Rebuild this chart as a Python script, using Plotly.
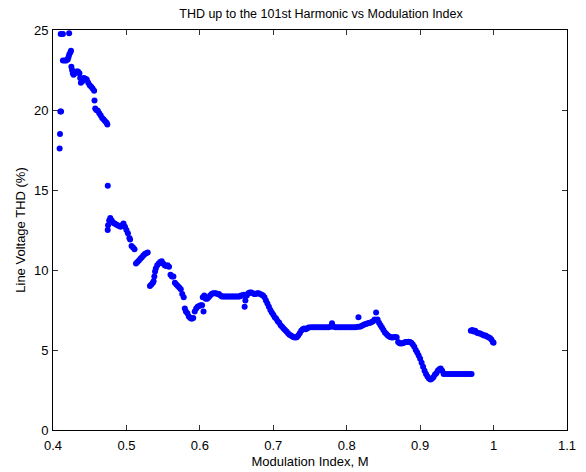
import plotly.graph_objects as go

# Modulation index values (M) and line-voltage THD (%)
m_values = [
    0.409, 0.4095, 0.410, 0.411,
    0.4105, 0.4135, 0.422,
    0.4135, 0.416, 0.418, 0.420, 0.421, 0.422, 0.4235, 0.4245,
    0.425, 0.426, 0.427, 0.428, 0.430, 0.432, 0.434, 0.436, 0.437, 0.438,
    0.440, 0.442, 0.444, 0.446, 0.448, 0.450, 0.452, 0.454, 0.456,
    0.4565, 0.4575, 0.459, 0.461, 0.463, 0.465, 0.467, 0.469, 0.471, 0.473, 0.474,
    0.4746,
    0.4745, 0.4750, 0.4765, 0.478, 0.480, 0.482, 0.484, 0.486, 0.488, 0.490,
    0.492, 0.494, 0.496, 0.498, 0.500, 0.502, 0.504, 0.505, 0.507, 0.509, 0.511,
    0.513, 0.515, 0.517, 0.519, 0.521, 0.523, 0.525, 0.527, 0.529,
    0.532, 0.534, 0.536, 0.537, 0.538, 0.539, 0.540, 0.542, 0.544, 0.546, 0.548,
    0.550, 0.552, 0.554, 0.556, 0.558, 0.560, 0.562, 0.564, 0.566, 0.568, 0.570,
    0.572, 0.574, 0.576, 0.578, 0.5795, 0.581, 0.583, 0.585, 0.587, 0.589, 0.591,
    0.593, 0.595, 0.597, 0.599, 0.601, 0.603, 0.605,
    0.604, 0.606, 0.608, 0.610, 0.612, 0.614, 0.616, 0.618, 0.620, 0.622, 0.624,
    0.626, 0.628, 0.630, 0.632, 0.634, 0.636, 0.638, 0.640, 0.642, 0.644, 0.646,
    0.648, 0.650, 0.652, 0.654, 0.656, 0.658, 0.660, 0.661, 0.662, 0.664, 0.666,
    0.668, 0.670, 0.672, 0.674, 0.676, 0.678, 0.680, 0.682, 0.684, 0.686, 0.688,
    0.690, 0.692, 0.694, 0.696, 0.698, 0.700, 0.702, 0.704, 0.706, 0.708, 0.710,
    0.712, 0.714, 0.716, 0.718, 0.720, 0.722, 0.724, 0.726, 0.728, 0.730, 0.732,
    0.734, 0.736, 0.738, 0.740, 0.742, 0.744, 0.746, 0.748, 0.751, 0.754, 0.757,
    0.760, 0.763, 0.766, 0.769, 0.772, 0.775, 0.778, 0.780, 0.782, 0.785, 0.788,
    0.791, 0.794, 0.797, 0.800, 0.803, 0.806, 0.809, 0.812, 0.815, 0.816, 0.818,
    0.820, 0.822, 0.824, 0.826, 0.828, 0.830, 0.832, 0.834, 0.836, 0.838, 0.840,
    0.842, 0.844, 0.846, 0.848, 0.850, 0.852, 0.854, 0.856, 0.858, 0.860, 0.862,
    0.864, 0.866, 0.868, 0.870, 0.872, 0.874, 0.876, 0.878, 0.880, 0.882, 0.884,
    0.886, 0.888, 0.890, 0.892, 0.894, 0.896, 0.898, 0.900, 0.902, 0.904, 0.906,
    0.908, 0.910, 0.912, 0.914, 0.916, 0.918, 0.920, 0.922, 0.924, 0.926, 0.928,
    0.930, 0.932, 0.935, 0.938, 0.941, 0.944, 0.947, 0.950, 0.953, 0.956, 0.959,
    0.962, 0.965, 0.968, 0.970,
    0.969, 0.971, 0.973, 0.975, 0.977, 0.979, 0.981, 0.983, 0.985, 0.987, 0.989,
    0.991, 0.993, 0.995, 0.997, 0.999, 1.000,
]
thd_values = [
    17.6, 18.5, 19.9, 19.9,
    24.75, 24.75, 24.8,
    23.1, 23.1, 23.1, 23.15, 23.3, 23.45, 23.6, 23.7,
    22.7, 22.5, 22.3, 22.2, 22.3, 22.4, 22.4, 22.3, 22.0, 21.7,
    21.8, 22.0, 21.95, 21.9, 21.7, 21.55, 21.45, 21.35, 21.2,
    20.6, 20.1, 20.0, 19.95, 19.8, 19.65, 19.5, 19.4, 19.3, 19.2, 19.1,
    15.27,
    12.5, 12.8, 13.1, 13.25, 13.1, 12.95, 12.9, 12.85, 12.8, 12.75,
    12.7, 12.8, 12.9, 12.7, 12.5, 12.3, 12.0, 11.9, 11.5, 11.4, 11.3,
    10.4, 10.5, 10.6, 10.7, 10.8, 10.9, 11.0, 11.05, 11.1,
    9.0, 9.1, 9.2, 9.3, 9.6, 9.9, 10.1, 10.3, 10.4, 10.5, 10.55,
    10.4, 10.3, 10.25, 10.3, 10.2, 9.7, 9.6, 9.6, 9.2, 9.1, 9.0,
    8.9, 8.8, 8.5, 8.3, 7.6, 7.4, 7.3, 7.1, 7.0, 6.95, 7.0,
    7.4, 7.6, 7.7, 7.75, 7.8, 7.8, 7.4,
    8.3, 8.4, 8.2, 8.2, 8.3, 8.4, 8.5, 8.55, 8.55, 8.55, 8.5,
    8.5, 8.4, 8.35, 8.35, 8.35, 8.35, 8.35, 8.35, 8.35, 8.35, 8.35,
    8.35, 8.35, 8.35, 8.35, 8.4, 8.4, 8.45, 7.7, 8.1, 8.4, 8.55,
    8.6, 8.6, 8.55, 8.5, 8.5, 8.55, 8.55, 8.5, 8.45, 8.4, 8.3,
    8.1, 7.9, 7.7, 7.5, 7.35, 7.2, 7.05, 6.95, 6.8, 6.7, 6.55,
    6.45, 6.35, 6.25, 6.15, 6.05, 5.95, 5.9, 5.85, 5.8, 5.78, 5.8,
    5.9, 6.05, 6.2, 6.3, 6.35, 6.3, 6.35, 6.4, 6.42, 6.42, 6.42,
    6.42, 6.42, 6.42, 6.42, 6.42, 6.42, 6.45, 6.67, 6.45, 6.42, 6.42,
    6.42, 6.42, 6.42, 6.42, 6.42, 6.42, 6.42, 6.42, 6.45, 7.04, 6.45,
    6.5, 6.55, 6.6, 6.62, 6.65, 6.68, 6.7, 6.75, 6.8, 6.9, 7.35,
    6.9, 6.7, 6.55, 6.4, 6.25, 6.1, 6.0, 5.9, 5.85, 5.8, 5.78,
    5.8, 5.82, 5.8, 5.5, 5.42, 5.4, 5.42, 5.45, 5.5, 5.5, 5.52,
    5.5, 5.45, 5.35, 5.2, 5.0, 4.85, 4.65, 4.45, 4.2, 3.95, 3.7,
    3.5, 3.35, 3.22, 3.15, 3.2, 3.3, 3.45, 3.55, 3.7, 3.8, 3.85,
    3.7, 3.5, 3.5, 3.5, 3.5, 3.5, 3.5, 3.5, 3.5, 3.5, 3.5,
    3.5, 3.5, 3.5, 3.5,
    6.2, 6.25, 6.15, 6.2, 6.1, 6.05, 6.05, 6.0, 5.95, 5.9, 5.9,
    5.85, 5.8, 5.75, 5.65, 5.5, 5.45,
]

x_ticks = [0.4, 0.5, 0.6, 0.7, 0.8, 0.9, 1.0, 1.1]
x_tick_labels = ["0.4", "0.5", "0.6", "0.7", "0.8", "0.9", "1", "1.1"]
y_ticks = [0, 5, 10, 15, 20, 25]

FONT = "Liberation Sans, Arial, sans-serif"

fig = go.Figure(
    go.Scatter(
        x=m_values,
        y=thd_values,
        mode="markers",
        marker=dict(color="#0000ff", size=6, line=dict(width=0)),
        showlegend=False,
    )
)

axis_common = dict(
    showgrid=False,
    zeroline=False,
    showline=True,
    linecolor="black",
    linewidth=1,
    mirror="ticks",
    ticks="inside",
    ticklen=5,
    tickcolor="#333333",
    automargin=False,
    tickfont=dict(family=FONT, size=13, color="black"),
)

fig.update_layout(
    width=586,
    height=472,
    margin=dict(l=53, r=19, t=30, b=42),
    paper_bgcolor="white",
    plot_bgcolor="white",
    font=dict(family=FONT, color="black"),
    title=dict(
        text="THD up to the 101st Harmonic vs Modulation Index",
        font=dict(family=FONT, size=12.5, color="black"),
        x=321 / 586,
        xanchor="center",
        y=1 - 14 / 472,
        yanchor="middle",
        yref="container",
    ),
    xaxis=dict(
        range=[0.4, 1.1],
        tickvals=x_ticks,
        ticktext=x_tick_labels,
        ticklabelstandoff=3,
        title=dict(text="Modulation Index, M", font=dict(family=FONT, size=13), standoff=5),
        **axis_common,
    ),
    yaxis=dict(
        range=[0, 25],
        tickvals=y_ticks,
        ticklabelstandoff=1,
        title=dict(text="Line Voltage THD (%)", font=dict(family=FONT, size=13), standoff=5),
        **axis_common,
    ),
)

fig.write_html("out.html")
